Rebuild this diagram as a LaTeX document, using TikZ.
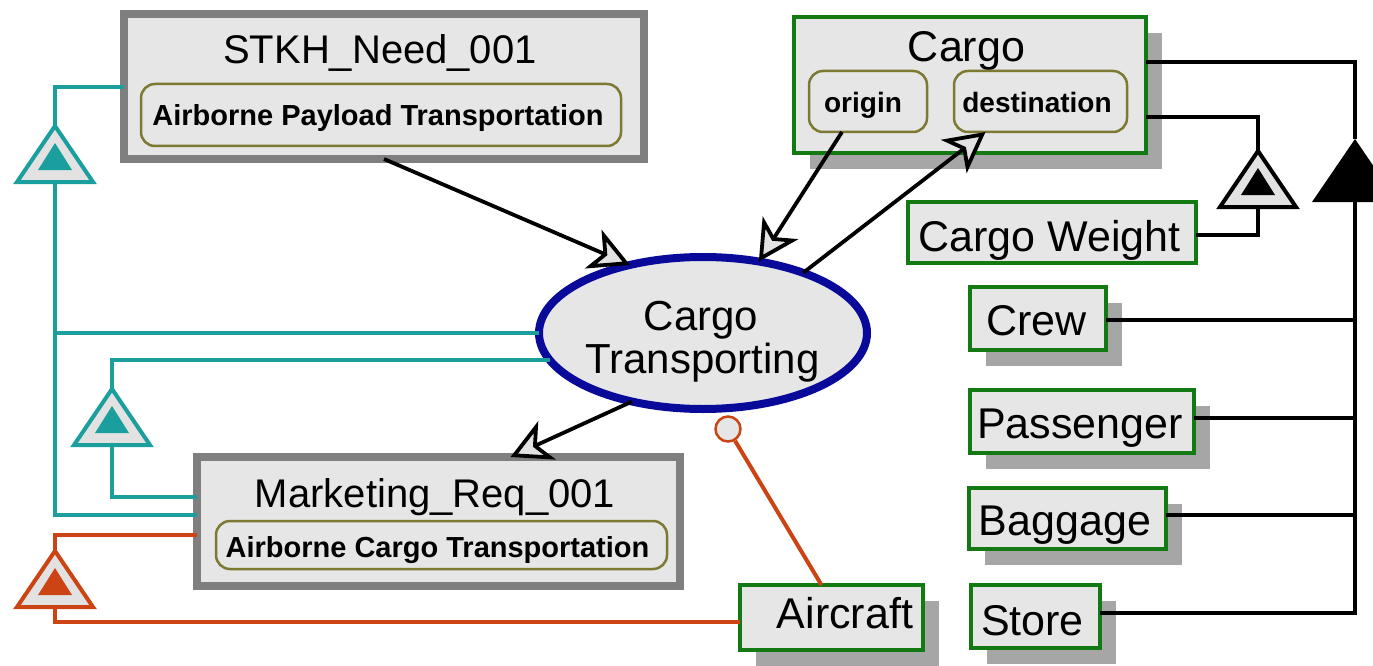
\documentclass[tikz,border=0pt]{standalone}
\usepackage{fontspec}
\setmainfont{Liberation Sans}
\usetikzlibrary{arrows.meta,shapes.geometric,shadows,calc}

\definecolor{boxfill}{HTML}{E6E6E6}
\definecolor{reqframe}{HTML}{7F7F7F}
\definecolor{classgreen}{HTML}{137A13}
\definecolor{partolive}{HTML}{7D7832}
\definecolor{linkteal}{HTML}{1A9E9E}
\definecolor{linkorange}{HTML}{CC4414}
\definecolor{ucblue}{HTML}{0A0A9A}
\definecolor{shadowgray}{HTML}{A6A6A6}
\definecolor{tipfill}{HTML}{E2E2E2}

% generalisation triangle: hollow outline with a small solid triangle inside
\newcommand\gentri[2]{%
  \draw[line width=4pt, draw=#2, fill=tipfill, line join=miter]
    (#1) -- ++(-38,56) -- ++(76,0) -- cycle;
  \fill[#2] ($(#1)+(0,17)$) -- ++(-17,27) -- ++(34,0) -- cycle;
}

\begin{document}
\begin{tikzpicture}[x=1pt,y=-1pt,
  reqbox/.style={draw=reqframe, line width=8pt, fill=boxfill, inner sep=0pt, outer sep=0pt},
  partbox/.style={draw=partolive, line width=2.5pt, rounded corners=14pt, fill=boxfill,
    inner sep=0pt, outer sep=0pt},
  classbox/.style={draw=classgreen, line width=4.5pt, fill=boxfill, inner sep=0pt, outer sep=0pt},
  shadowed/.style={drop shadow={shadow xshift=16pt, shadow yshift=-16pt, opacity=1, fill=shadowgray}},
  usecase/.style={ellipse, draw=ucblue, line width=8pt, fill=boxfill, inner sep=0pt, outer sep=0pt,
    minimum width=328pt, minimum height=152pt},
  lbl/.style={anchor=base, inner sep=0pt, font=\fontsize{43}{46}\selectfont},
  titlelbl/.style={anchor=base, inner sep=0pt, font=\fontsize{40}{44}\selectfont},
  partlbl/.style={anchor=base, inner sep=0pt, font=\bfseries\fontsize{29}{32}\selectfont},
  flow/.style={line width=3.8pt, line join=miter,
    -{Stealth[length=40pt, width=42pt, inset=11pt, fill=tipfill]}},
  treeline/.style={line width=3.5pt},
  tealline/.style={line width=4.5pt, draw=linkteal},
  orangeline/.style={line width=4pt, draw=linkorange},
]
\useasboundingbox (0,0) rectangle (1373,666);
\clip (0,0) rectangle (1373,666);

% requirement boxes
\node[reqbox, minimum width=520pt, minimum height=145pt] (stkh) at (384,86.5) {};
\node[titlelbl] (stkhtitle) at (380,64) {STKH\_Need\_001};
\node[partbox, minimum width=480pt, minimum height=62pt] (stkhpart) at (381,115) {};
\node[partlbl] (stkhparttxt) at (378,125) {Airborne Payload Transportation};

\node[reqbox, minimum width=483pt, minimum height=129pt] (mkt) at (438.5,521.5) {};
\node[titlelbl] (mkttitle) at (435,507) {Marketing\_Req\_001};
\node[partbox, minimum width=451pt, minimum height=48pt] (mktpart) at (441.5,545) {};
\node[partlbl] (mktparttxt) at (437.5,557) {Airborne Cargo Transportation};

% class blocks
\node[classbox, shadowed, minimum width=352pt, minimum height=136pt] (cargo) at (970,85) {};
\node[lbl] (cargotxt) at (966.5,62) {Cargo};
\node[partbox, minimum width=118pt, minimum height=61pt] (origin) at (868,101.5) {};
\node[partlbl, font=\bfseries\fontsize{28}{32}\selectfont] (origintxt) at (863,113) {origin};
\node[partbox, minimum width=173pt, minimum height=61pt] (dest) at (1040.5,101.5) {};
\node[partlbl, font=\bfseries\fontsize{28}{32}\selectfont] (desttxt) at (1037,113) {destination};

\node[classbox, minimum width=288pt, minimum height=61pt] (weight) at (1052,232.5) {};
\node[lbl] (weighttxt) at (1049.5,251) {Cargo Weight};

\node[classbox, shadowed, minimum width=136pt, minimum height=63pt] (crew) at (1038,318.5) {};
\node[lbl] (crewtxt) at (1036.5,335) {Crew};
\node[classbox, shadowed, minimum width=224pt, minimum height=63pt] (pass) at (1082,421.5) {};
\node[lbl] (passtxt) at (1080,438) {Passenger};
\node[classbox, shadowed, minimum width=197pt, minimum height=61pt] (bagg) at (1067.5,518.5) {};
\node[lbl] (baggtxt) at (1065,535) {Baggage};
\node[classbox, shadowed, minimum width=129pt, minimum height=63pt] (store) at (1035.5,616.5) {};
\node[lbl] (storetxt) at (1032.5,635) {Store};
\node[classbox, shadowed, minimum width=183pt, minimum height=65pt] (aircraft) at (831.5,617.5) {};
\node[lbl] (aircrafttxt) at (845,628) {Aircraft};

% use case
\node[usecase] (uc) at (703,333) {};
\node[lbl, font=\fontsize{42}{46}\selectfont] (uctxt1) at (701,330) {Cargo};
\node[lbl, font=\fontsize{42}{46}\selectfont] (uctxt2) at (702.5,373) {Transporting};

% triangle anchor points
\coordinate (t1a) at (55,126);   \coordinate (t1b) at (55,182);
\coordinate (t2a) at (112,389);  \coordinate (t2b) at (112,445);
\coordinate (t3a) at (55,551);   \coordinate (t3b) at (55,607);
\coordinate (t4a) at (1258,151); \coordinate (t4b) at (1258,207);
\coordinate (bigapex) at (1355,139); \coordinate (bigbase) at (1355,202);

% teal links
\draw[tealline] (stkh.west |- 0,87) -| (t1a);
\draw[tealline] (t1b) |- (mkt.west |- 0,515);
\draw[tealline] (uc.180) -- (uc.180 -| t1b);
\draw[tealline] (uc.190) -| (t2a);
\draw[tealline] (t2b) |- (mkt.west |- 0,497);

% orange links
\draw[orangeline] (mkt.west |- 0,535) -| (t3a);
\draw[orangeline] (t3b) |- (aircraft.west |- 0,622);
\node[circle, draw=linkorange, line width=2.5pt, fill=boxfill, minimum size=25pt, inner sep=0pt]
  (req) at (728,429) {};
\draw[orangeline] (req) -- ($(aircraft.north)+(-10,0)$);

% black tree on the right
\draw[treeline] (cargo.east |- 0,62) -| (bigapex);
\draw[treeline] (cargo.east |- 0,117) -| (t4a);
\draw[treeline] (t4b) |- (weight.east |- 0,235);
\draw[treeline] (bigbase) |- (store.east |- 0,613);
\draw[treeline] (crew.east |- 0,320) -- (bigbase |- 0,320);
\draw[treeline] (pass.east |- 0,418) -- (bigbase |- 0,418);
\draw[treeline] (bagg.east |- 0,515) -- (bigbase |- 0,515);

% triangles
\gentri{t1a}{linkteal}
\gentri{t2a}{linkteal}
\gentri{t3a}{linkorange}
\gentri{t4a}{black}
\fill (bigapex) -- ++(-43,63) -- ++(86,0) -- cycle;

% flows
\draw[flow] (stkh.south) -- (uc.137);
\draw[flow] ($(origin.south)+(-26,0)$) -- (uc.52);
\draw[flow] (uc.31) -- ($(dest.south)+(-55,0)$);
\draw[flow] (uc.224) -- ($(mkt.north)+(72,0)$);
\end{tikzpicture}
\end{document}
